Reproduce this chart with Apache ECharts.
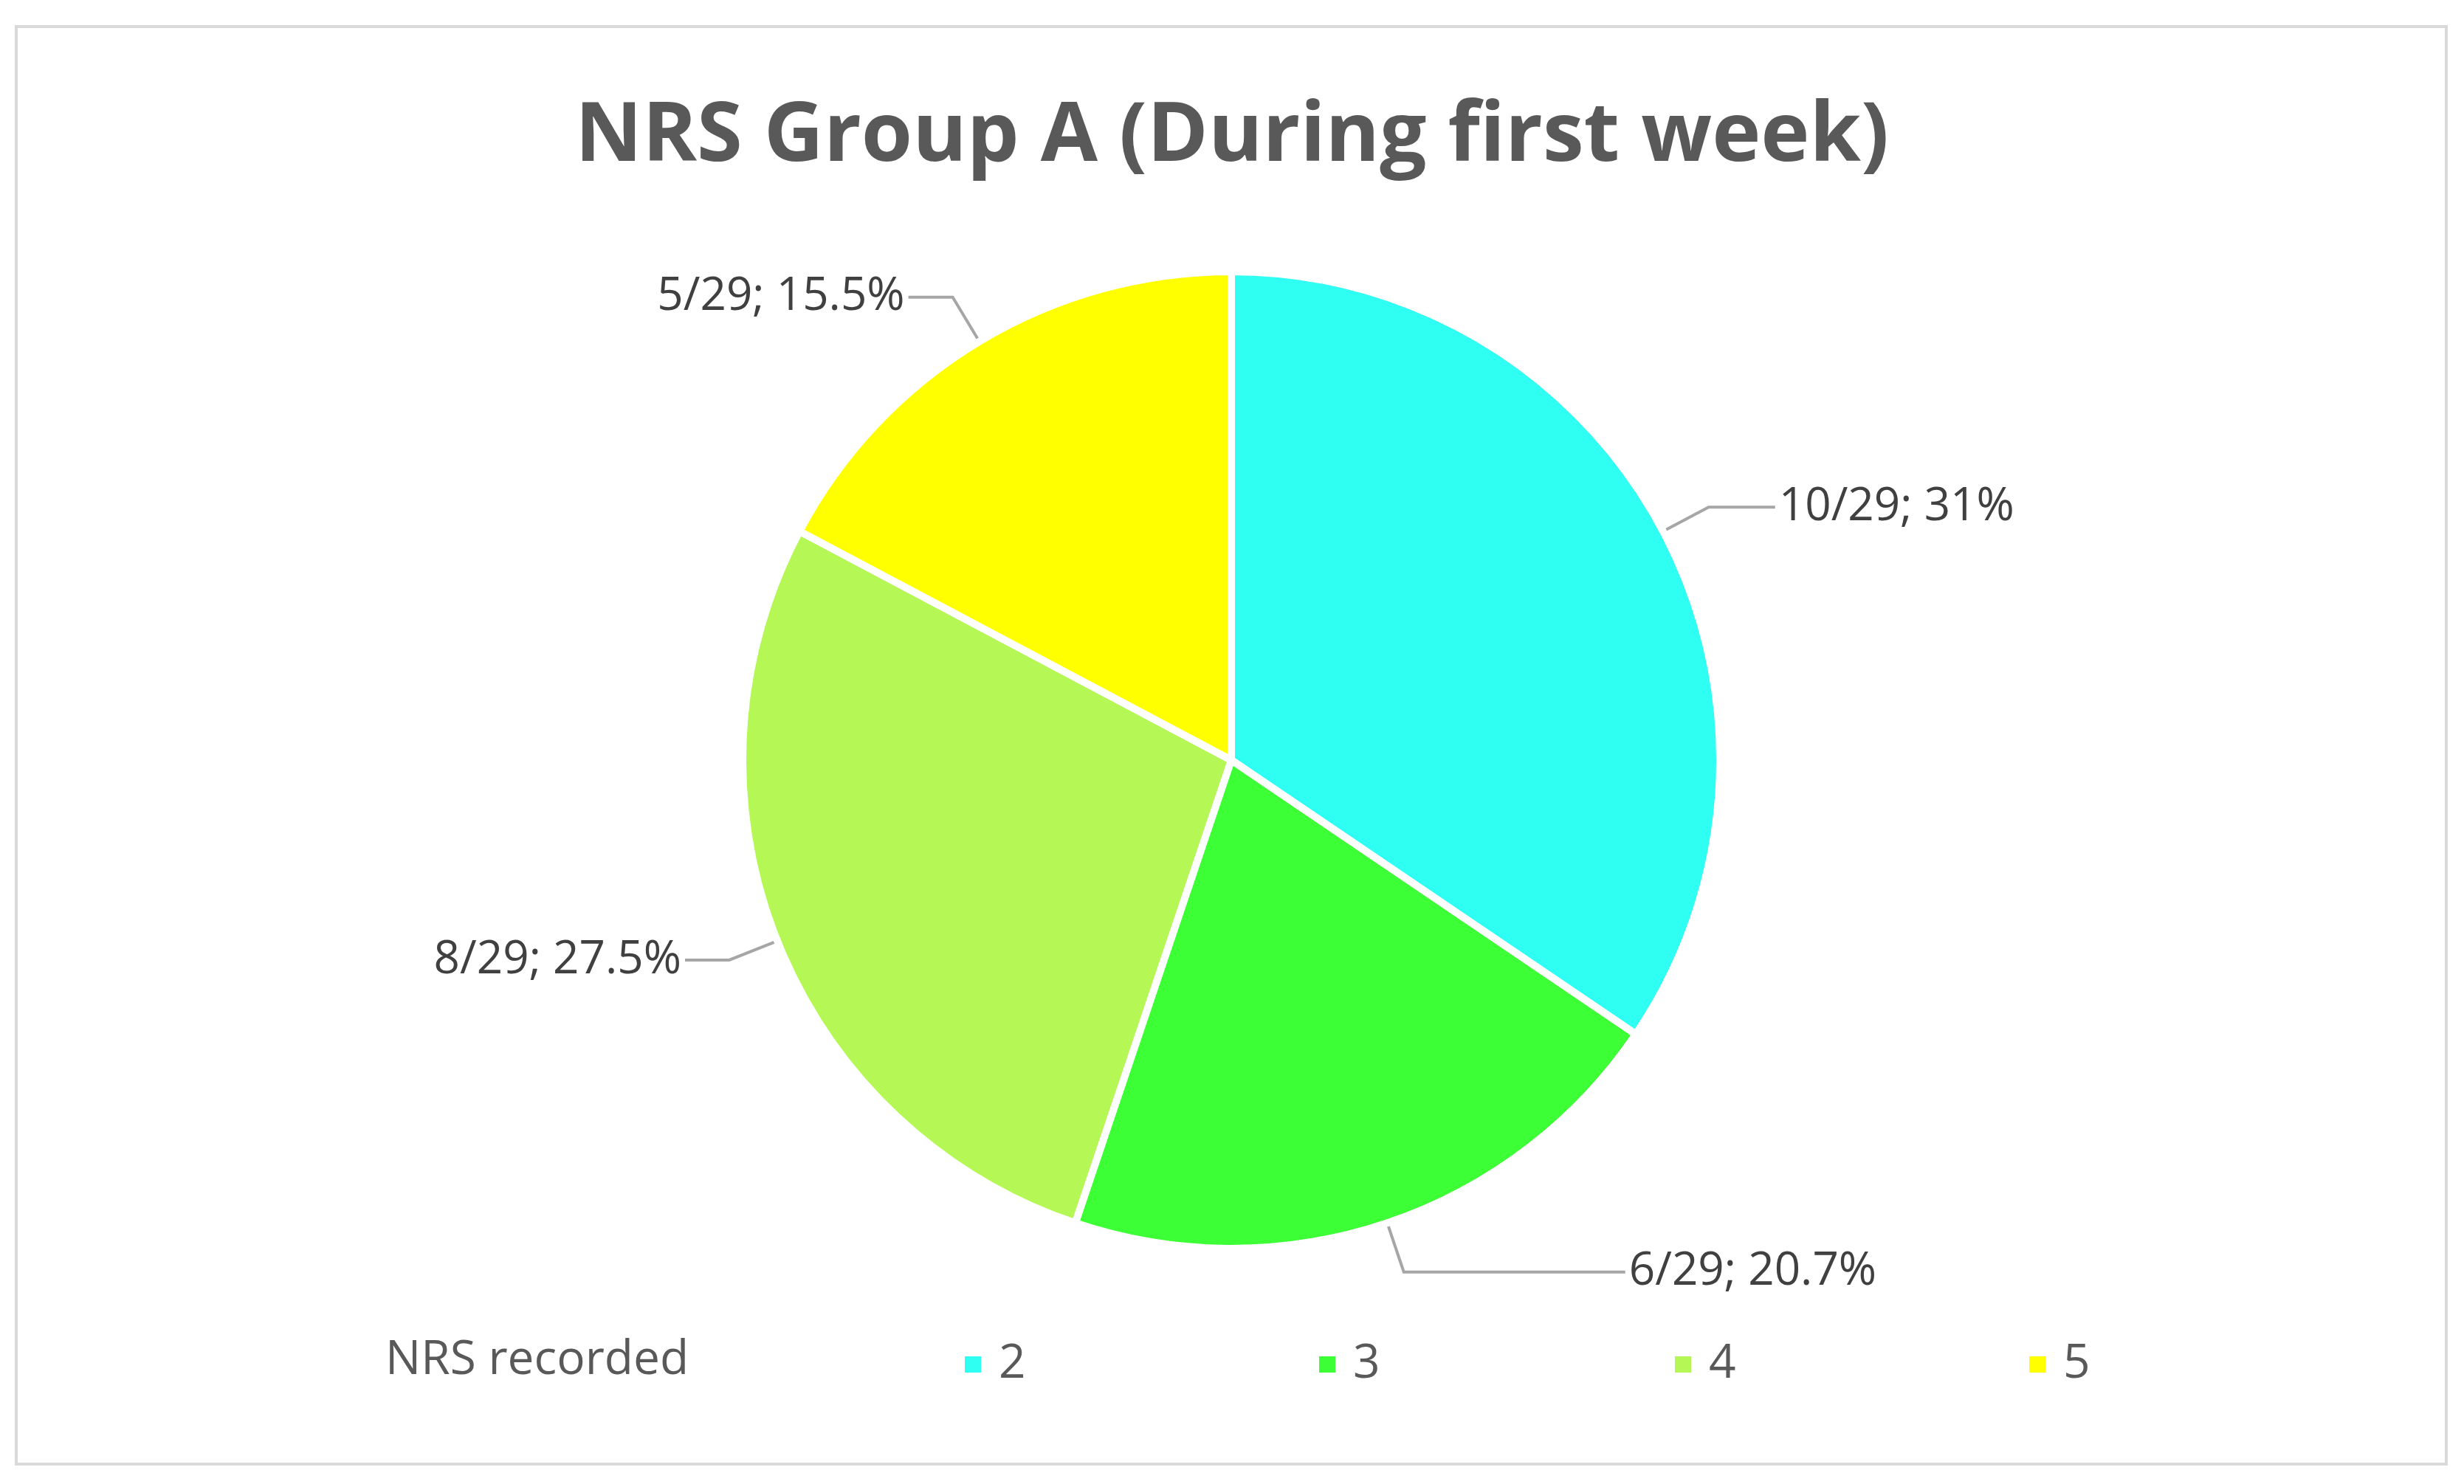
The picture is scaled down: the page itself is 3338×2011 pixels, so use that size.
<!DOCTYPE html>
<html><head><meta charset="utf-8">
<script src="https://cdn.jsdelivr.net/npm/echarts@6/dist/echarts.min.js"></script>
<style>html,body{margin:0;padding:0;background:#fff}#c{width:3338px;height:2011px}</style>
</head><body><div id="c"></div>
<script>
const categories = ['2','3','4','5'];
const values = [10, 6, 8, 5];
const labels = ['10/29; 31%','6/29; 20.7%','8/29; 27.5%','5/29; 15.5%'];
const colors = ['#2EFFF2','#3CFF35','#B5F755','#FFFF00'];
const legendLeft = [1300, 1780, 2262, 2742];
const lineLen2 = [90, 300, 60, 60];
const font = 'Open Sans';
const chart = echarts.init(document.getElementById('c'));
chart.setOption({
  backgroundColor:'#fff',
  title:{text:'NRS Group A (During first week)',left:'center',top:125,
    textStyle:{fontFamily:font,fontSize:112,fontWeight:'bold',color:'#595959'}},
  graphic:[
    {type:'rect',shape:{x:22,y:36,width:3292,height:1948},style:{fill:'none',stroke:'#d9d9d9',lineWidth:4}},
    {type:'text',left:522,top:1812,style:{text:'NRS recorded',fontFamily:font,fontSize:64,fill:'#595959'}}
  ],
  legend: categories.map((c,i)=>({data:[c],left:legendLeft[i],top:1812,icon:'rect',itemWidth:24,itemHeight:24,
    textStyle:{fontFamily:font,fontSize:64,color:'#595959',padding:[0,0,0,18]}})),
  series:[{type:'pie',center:[1668,1030],radius:662,startAngle:90,clockwise:true,
    data:categories.map((c,i)=>({name:c,value:values[i],itemStyle:{color:colors[i]},labelLine:{length2:lineLen2[i]}})),
    itemStyle:{borderColor:'#fff',borderWidth:10},
    label:{formatter:p=>labels[p.dataIndex],fontFamily:font,fontSize:62,color:'#404040'},
    labelLine:{length:70,length2:90,lineStyle:{color:'#a6a6a6',width:4}}
  }]
});
</script></body></html>
